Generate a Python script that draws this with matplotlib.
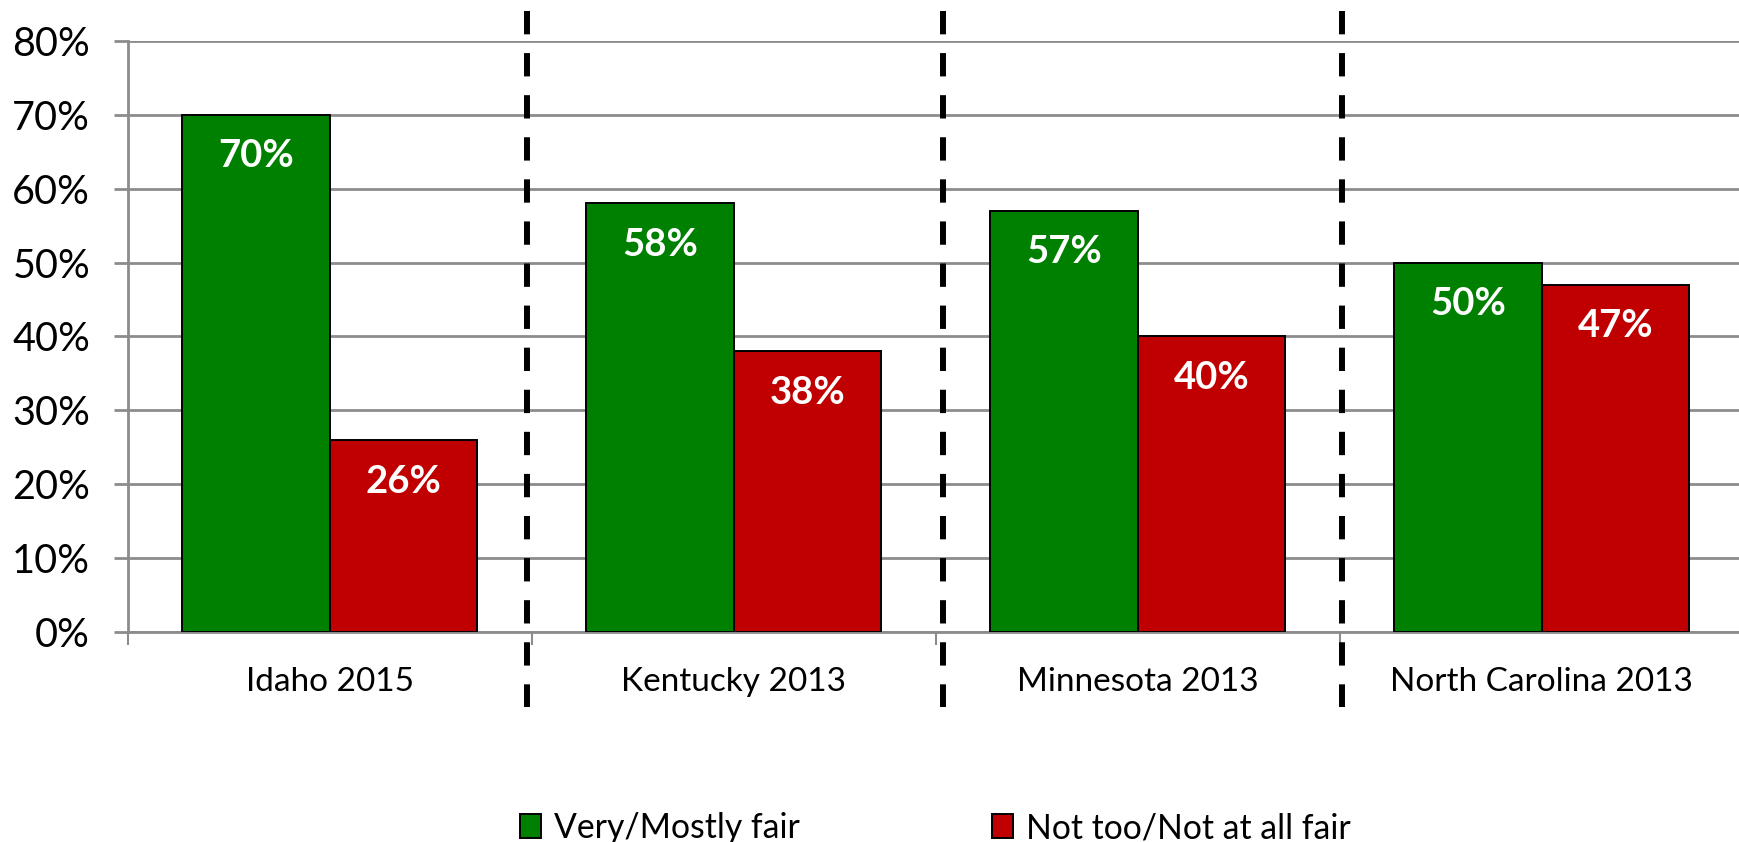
import matplotlib
matplotlib.use("Agg")
import matplotlib.pyplot as plt
from matplotlib.patches import Patch

plt.rcParams['font.family'] = ['Lato', 'DejaVu Sans']
plt.rcParams['lines.scale_dashes'] = False

categories = ["Idaho 2015", "Kentucky 2013", "Minnesota 2013", "North Carolina 2013"]
series_names = ["Very/Mostly fair", "Not too/Not at all fair"]
fair = [70, 58, 57, 50]
unfair = [26, 38, 40, 47]
yticks = [0, 10, 20, 30, 40, 50, 60, 70, 80]
separators = [0.489, 1.518, 2.506]

green = "#008000"
red = "#C00000"
grey = "#8c8c8c"

fig = plt.figure(figsize=(17.4, 8.42), dpi=100)
ax = fig.add_axes([127.6 / 1740, (842 - 632.3) / 842, (1743.6 - 127.6) / 1740, (632.3 - 40.7) / 842])

x = list(range(len(categories)))
w = 0.365
b1 = ax.bar([i - w / 2 for i in x], fair, width=w, color=green, edgecolor="black", linewidth=1.4, zorder=3, label=series_names[0])
b2 = ax.bar([i + w / 2 for i in x], unfair, width=w, color=red, edgecolor="black", linewidth=1.4, zorder=3, label=series_names[1])

for bars, vals in ((b1, fair), (b2, unfair)):
    for rect, v in zip(bars, vals):
        ax.annotate(f"{v}%", (rect.get_x() + rect.get_width() / 2, v), xytext=(0, -30),
                    textcoords="offset points", ha="center", va="center",
                    color="white", fontsize=27.5, fontweight="bold", zorder=4)

ax.set_xlim(-0.5, 3.5)
ax.set_ylim(0, 80)
ax.set_yticks(yticks)
ax.set_yticklabels([f"{t}%" for t in yticks])
ax.yaxis.grid(True, color=grey, linewidth=2, zorder=0)
ax.set_axisbelow(True)
ax.tick_params(axis="y", length=10, width=2, color=grey, pad=17, labelsize=28.5)

ax.set_xticks(x)
ax.set_xticklabels(categories)
ax.set_xticks([-0.5, 0.5, 1.5, 2.5], minor=True)
ax.tick_params(axis="x", which="major", length=0, pad=25, labelsize=24)
ax.tick_params(axis="x", which="minor", length=9, width=1.5, color=grey)

for s in ("top", "right"):
    ax.spines[s].set_visible(False)
ax.spines["left"].set_color(grey)
ax.spines["left"].set_linewidth(2)
ax.spines["bottom"].set_color(grey)
ax.spines["bottom"].set_linewidth(2)

for sx in separators:
    ax.plot([sx, sx], [84.0, -10.1], color="black", linewidth=4.3, dashes=(16.8, 13.5),
            solid_capstyle="butt", dash_capstyle="butt", clip_on=False, zorder=5)

handles = [Patch(facecolor=green, edgecolor="black", linewidth=1.4),
           Patch(facecolor=red, edgecolor="black", linewidth=1.4)]
ax.legend(handles, series_names, loc="center", bbox_to_anchor=(0.5, -0.331), ncol=2,
          frameon=False, fontsize=24.3, handlelength=0.6, handleheight=0.7,
          handletextpad=0.4, columnspacing=5.7)

fig.savefig("out.png", dpi=100)
